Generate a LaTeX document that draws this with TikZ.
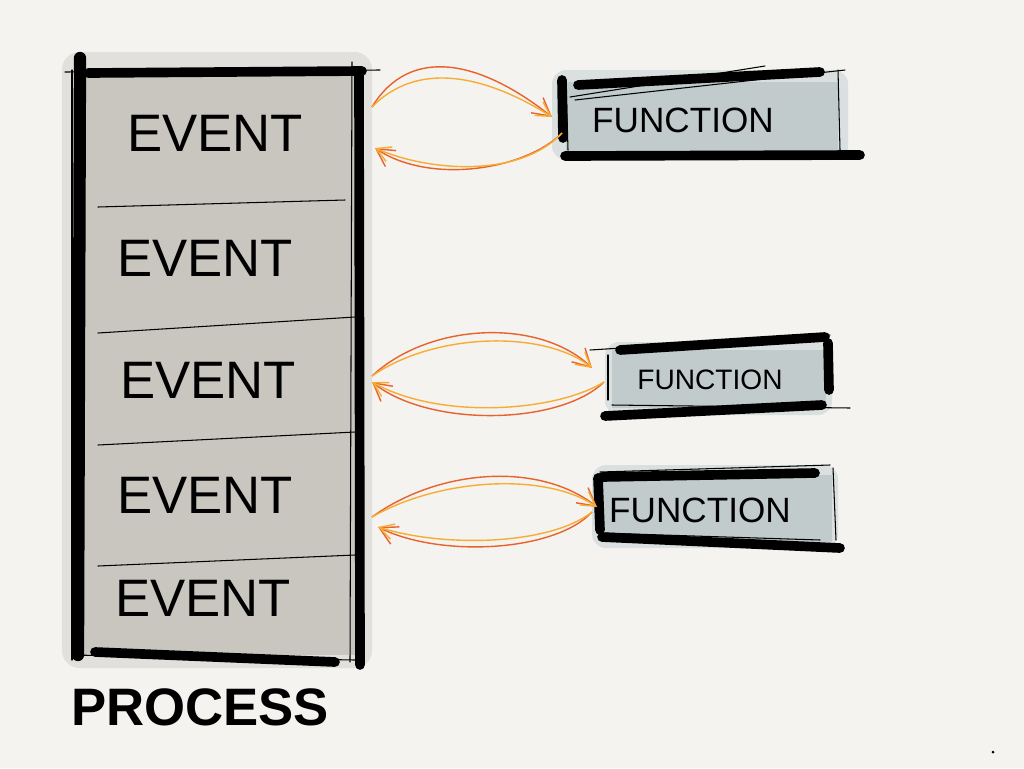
\documentclass[tikz,border=0pt]{standalone}
\usepackage{fontspec}
\setmainfont{Liberation Sans}
\usepackage{tikz}
\usetikzlibrary{arrows.meta, positioning}
\definecolor{paper}   {RGB}{244, 243, 240}
\definecolor{procfill}{RGB}{201, 198, 192}
\definecolor{prochalo}{RGB}{226, 224, 220}
\definecolor{funcfill}{RGB}{193, 203, 204}
\definecolor{funchalo}{RGB}{218, 223, 223}
\definecolor{inkA}    {RGB}{232,  98,  44}
\definecolor{inkB}    {RGB}{247, 172,  52}

\tikzset{
  heavy/.style={line width=5.5pt, line cap=round},
  pen/.style={line width=0.6pt, line cap=round},
  eventtext/.style={font=\fontsize{30}{30}\selectfont, inner sep=0pt},
  functext/.style={font=\fontsize{20}{20}\selectfont, inner sep=0pt},
  flowA/.style={inkA, line width=0.8pt, -{Straight Barb[length=10pt, width=11pt]}},
  flowB/.style={inkB, line width=0.8pt, -{Straight Barb[length=8pt, width=9pt]}}
}

\begin{document}
\begin{tikzpicture}[x=0.02cm, y=-0.02cm]
  % paper
  \fill[paper] (0,0) rectangle (1024,768);
  \useasboundingbox (0,0) rectangle (1024,768);

  % Process column
  \fill[prochalo, rounded corners=10pt] (62,52) rectangle (372,668);
  \fill[procfill] (82,72) rectangle (358,655);
  \draw[pen] (65,72) -- (380,70);
  \draw[pen] (72,655) -- (355,660);
  \draw[pen] (72,70) -- (72,660);
  \draw[pen] (352,62) -- (350,662);
  \draw[heavy, line width=7pt] (80,58) -- (78,655);
  \draw[heavy] (359,72) -- (360,665);
  \draw[heavy] (88,73) -- (362,71);
  \draw[heavy] (95,652) -- (335,662);

  % dividers between events
  \draw[pen] (98,207) -- (345,200);
  \draw[pen] (98,333) -- (355,317);
  \draw[pen] (98,445) -- (355,432);
  \draw[pen] (98,566) -- (355,555);

  % events
  \node[eventtext] (ev1) at (215,133) {EVENT};
  \node[eventtext] (ev2) at (205,258) {EVENT};
  \node[eventtext] (ev3) at (208,380) {EVENT};
  \node[eventtext] (ev4) at (205,495) {EVENT};
  \node[eventtext] (ev5) at (203,598) {EVENT};

  \node[font=\bfseries\fontsize{30}{30}\selectfont, inner sep=0pt] (proc) at (200,707) {PROCESS};

  % Function 1
  \fill[funchalo, rounded corners=8pt] (552,70) rectangle (848,160);
  \fill[funcfill] (566,82) rectangle (838,152);
  \draw[pen] (570,97) -- (765,66);
  \draw[pen] (575,100) -- (845,70);
  \draw[pen] (566,80) -- (568,150);
  \draw[pen] (838,70) -- (840,150);
  \draw[heavy] (578,85) -- (820,72);
  \draw[heavy] (562,80) -- (563,138);
  \draw[heavy] (565,156) -- (860,155);
  \node[functext] (fn1) at (683,120) {FUNCTION};

  % Function 2
  \fill[funchalo, rounded corners=8pt] (605,342) rectangle (832,415);
  \fill[funcfill] (612,350) rectangle (826,408);
  \draw[pen] (590,350) -- (830,335);
  \draw[pen] (608,355) -- (608,400);
  \draw[pen] (612,405) -- (850,408);
  \draw[heavy] (620,350) -- (825,337);
  \draw[heavy] (828,343) -- (829,390);
  \draw[heavy] (605,416) -- (822,405);
  \node[functext, font=\fontsize{16}{16}\selectfont] (fn2) at (710,380) {FUNCTION};

  % Function 3
  \fill[funchalo, rounded corners=8pt] (592,465) rectangle (838,548);
  \fill[funcfill] (600,475) rectangle (832,542);
  \draw[pen] (600,472) -- (830,465);
  \draw[pen] (833,468) -- (836,540);
  \draw[pen] (600,533) -- (820,540);
  \draw[heavy] (602,477) -- (815,473);
  \draw[heavy] (598,478) -- (600,530);
  \draw[heavy] (602,537) -- (840,548);
  \node[functext] (fn3) at (700,510) {FUNCTION};

  % connector ends
  \coordinate (e1out) at (372,107);
  \coordinate (f1in)  at (552,117);
  \coordinate (f1out) at (562,133);
  \coordinate (e1in)  at (375,148);
  \coordinate (e3out) at (372,376);
  \coordinate (f2in)  at (592,368);
  \coordinate (f2out) at (604,382);
  \coordinate (e3in)  at (372,382);
  \coordinate (e4out) at (372,517);
  \coordinate (f3in)  at (597,507);
  \coordinate (f3out) at (592,512);
  \coordinate (e4in)  at (378,527);

  % event 1 <-> function 1
  \draw[flowA] (e1out) .. controls (410,45) and (480,60) .. (f1in);
  \draw[flowB] (e1out) .. controls (420,58) and (490,78) .. (f1in);
  \draw[flowA] (f1out) .. controls (525,170) and (430,185) .. (e1in);
  \draw[flowB] (f1out) .. controls (520,178) and (430,172) .. (e1in);

  % event 3 <-> function 2
  \draw[flowA] (e3out) .. controls (430,322) and (540,318) .. (f2in);
  \draw[flowB] (e3out) .. controls (435,332) and (545,330) .. (f2in);
  \draw[flowA] (f2out) .. controls (560,425) and (430,428) .. (e3in);
  \draw[flowB] (f2out) .. controls (555,412) and (440,420) .. (e3in);

  % event 4 <-> function 3
  \draw[flowA] (e4out) .. controls (440,468) and (540,462) .. (f3in);
  \draw[flowB] (e4out) .. controls (440,478) and (545,472) .. (f3in);
  \draw[flowA] (f3out) .. controls (555,552) and (440,558) .. (e4in);
  \draw[flowB] (f3out) .. controls (550,545) and (445,548) .. (e4in);

  % stray dot
  \fill (993,752) circle (1.5);
\end{tikzpicture}
\end{document}
